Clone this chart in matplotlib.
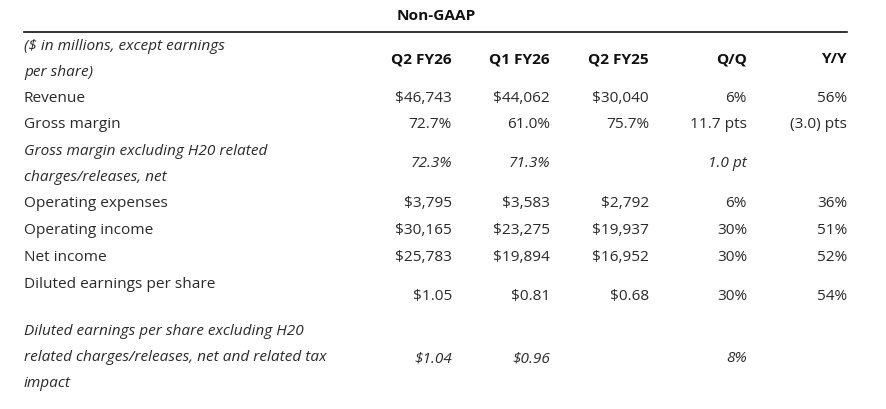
import matplotlib
matplotlib.use("Agg")
import matplotlib.pyplot as plt

title = "Non-GAAP"
col_headers = ["Q2 FY26", "Q1 FY26", "Q2 FY25", "Q/Q", "Y/Y"]
row_labels = [
    "($ in millions, except earnings\nper share)",
    "Revenue",
    "Gross margin",
    "Gross margin excluding H20 related\ncharges/releases, net",
    "Operating expenses",
    "Operating income",
    "Net income",
    "Diluted earnings per share",
    "Diluted earnings per share excluding H20\nrelated charges/releases, net and related tax\nimpact",
]
q2fy26 = ["", "$46,743", "72.7%", "72.3%", "$3,795", "$30,165", "$25,783", "$1.05", "$1.04"]
q1fy26 = ["", "$44,062", "61.0%", "71.3%", "$3,583", "$23,275", "$19,894", "$0.81", "$0.96"]
q2fy25 = ["", "$30,040", "75.7%", "", "$2,792", "$19,937", "$16,952", "$0.68", ""]
qoq = ["", "6%", "11.7 pts", "1.0 pt", "6%", "30%", "30%", "30%", "8%"]
yoy = ["", "56%", "(3.0) pts", "", "36%", "51%", "52%", "54%", ""]
italic_rows = [0, 3, 8]

W, H = 886, 410
fig = plt.figure(figsize=(W / 100, H / 100), dpi=100)
ax = fig.add_axes([0, 0, 1, 1])
ax.set_xlim(0, W)
ax.set_ylim(H, 0)
ax.axis("off")

font = "Open Sans"
color = "#2a2a2a"
fs = 11.1

# title and rule
ax.text(436, 16, title, ha="center", va="center", fontsize=fs, fontweight="bold",
        family=font, color="#111111")
ax.plot([24, 847], [33, 33], color="#111111", lw=1.2)

col_x = [452, 550, 649, 747, 847]
label_x = 24
line_gap = 26

# label line positions (first line center) and value center per row
label_y = [46, 98, 125, 152, 204, 231, 258, 285, 332]
value_y = [59, 98, 125, 164, 204, 231, 258, 297, 359]

cols = [q2fy26, q1fy26, q2fy25, qoq, yoy]

for i, lab in enumerate(row_labels):
    style = "italic" if i in italic_rows else "normal"
    for k, line in enumerate(lab.split("\n")):
        ax.text(label_x, label_y[i] + k * line_gap, line, ha="left", va="center",
                fontsize=fs, family=font, style=style, color=color)
    if i == 0:
        for x, h in zip(col_x, col_headers):
            ax.text(x, value_y[i], h, ha="right", va="center", fontsize=fs,
                    fontweight="bold", family=font, color="#111111")
    else:
        for x, c in zip(col_x, cols):
            if c[i]:
                ax.text(x, value_y[i], c[i], ha="right", va="center", fontsize=fs,
                        family=font, style=style, color=color)

fig.savefig("out.png", dpi=100, facecolor="white")
